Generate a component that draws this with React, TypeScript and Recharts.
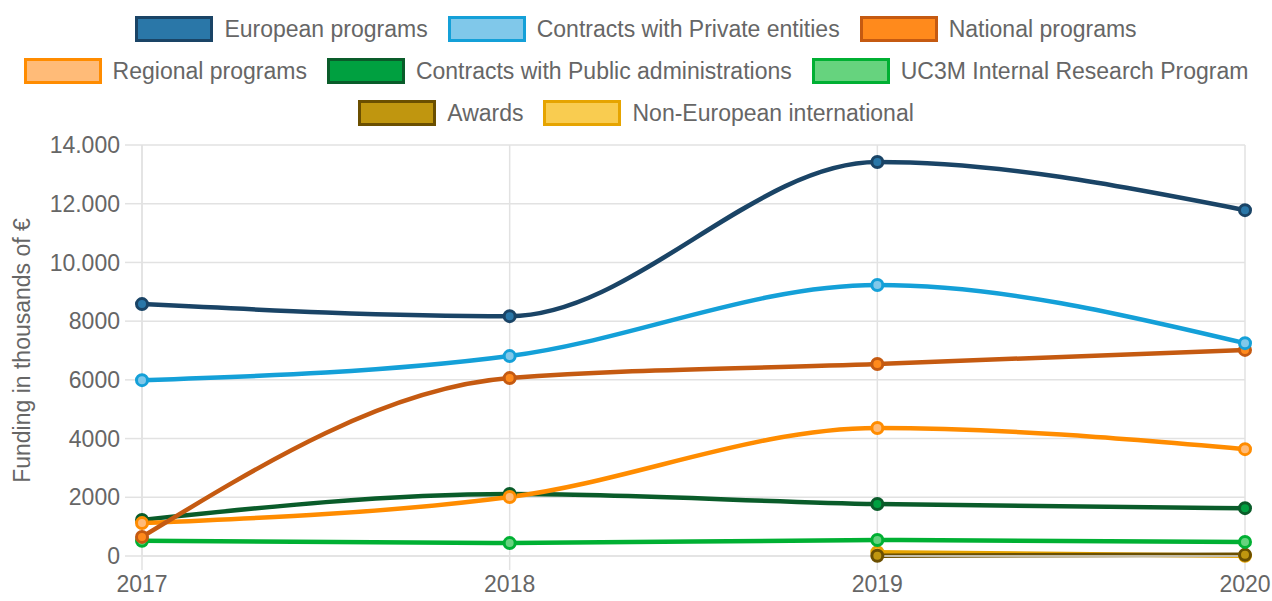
import React from 'react'
import { LineChart, Line, XAxis, YAxis, CartesianGrid } from 'recharts'

const years = ['2017', '2018', '2019', '2020']

const european = [8580, 8170, 13420, 11780]
const privateEntities = [5990, 6810, 9230, 7250]
const national = [650, 6060, 6540, 7020]
const regional = [1120, 2010, 4360, 3640]
const publicAdmin = [1230, 2110, 1770, 1630]
const internal = [520, 440, 545, 480]
const awards = [null, null, 10, 40]
const nonEuropean = [null, null, 130, 10]

const yTicks = [0, 2000, 4000, 6000, 8000, 10000, 12000, 14000]

const series = [
  { key: 'european', name: 'European programs', values: european, line: '#1a4466', fill: '#2a77a8' },
  { key: 'private', name: 'Contracts with Private entities', values: privateEntities, line: '#14a0d8', fill: '#80c8ea' },
  { key: 'national', name: 'National programs', values: national, line: '#c55a11', fill: '#ff8a1c' },
  { key: 'regional', name: 'Regional programs', values: regional, line: '#ff8c00', fill: '#ffbb78' },
  { key: 'public', name: 'Contracts with Public administrations', values: publicAdmin, line: '#0a5c2a', fill: '#00a040' },
  { key: 'internal', name: 'UC3M Internal Research Program', values: internal, line: '#00b033', fill: '#66d37e' },
  { key: 'awards', name: 'Awards', values: awards, line: '#6b4f00', fill: '#c0960f' },
  { key: 'nonEuropean', name: 'Non-European international', values: nonEuropean, line: '#e6a400', fill: '#f9cc50' },
]

const legendRows = [
  ['european', 'private', 'national'],
  ['regional', 'public', 'internal'],
  ['awards', 'nonEuropean'],
]

const data = years.map((year, i) => {
  const row: Record<string, any> = { year }
  series.forEach(s => {
    row[s.key] = s.values[i]
  })
  return row
})

const font = '"Liberation Sans", Arial, sans-serif'
const textColor = '#666'
const gridColor = '#e2e2e2'

function formatTick(v: number) {
  if (v >= 10000) {
    const s = String(v)
    return s.slice(0, s.length - 3) + '.' + s.slice(s.length - 3)
  }
  return String(v)
}

function ChartLegend() {
  return (
    <div style={{ position: 'absolute', left: 0, top: 15, width: 1272, fontFamily: font, fontSize: 23, color: textColor }}>
      {legendRows.map((row, ri) => (
        <div key={ri} style={{ display: 'flex', justifyContent: 'center', height: 42, alignItems: 'flex-start' }}>
          {row.map(k => {
            const s = series.find(x => x.key === k)!
            return (
              <div key={k} style={{ display: 'flex', alignItems: 'center', margin: '0 10px' }}>
                <div style={{ width: 72, height: 20, background: s.fill, border: `3px solid ${s.line}`, marginRight: 11 }} />
                <span style={{ lineHeight: '28px', whiteSpace: 'nowrap' }}>{s.name}</span>
              </div>
            )
          })}
        </div>
      ))}
    </div>
  )
}

export default function App() {
  return (
    <div style={{ position: 'absolute', left: 0, top: 0, width: 1272, height: 601, background: '#fff' }}>
      <ChartLegend />
      <LineChart width={1272} height={601} data={data} margin={{ top: 145, right: 27, bottom: 0, left: 0 }}>
        <CartesianGrid stroke={gridColor} strokeWidth={1.5} />
        <XAxis
          dataKey="year"
          height={45}
          stroke={gridColor}
          strokeWidth={1.5}
          tickSize={14}
          tickMargin={6}
          tick={{ fill: textColor, fontSize: 23, fontFamily: font }}
        />
        <YAxis
          width={142}
          domain={[0, 14000]}
          ticks={yTicks}
          interval={0}
          tickFormatter={formatTick}
          stroke={gridColor}
          strokeWidth={1.5}
          tickSize={17}
          tickMargin={5}
          tick={{ fill: textColor, fontSize: 23, fontFamily: font }}
          label={{
            value: 'Funding in thousands of €',
            angle: -90,
            position: 'insideLeft',
            offset: 22,
            style: { textAnchor: 'middle', fill: textColor, fontSize: 23, fontFamily: font },
          }}
        />
        {[...series].reverse().map(s => (
          <Line
            key={s.key}
            dataKey={s.key}
            name={s.name}
            type="monotone"
            stroke={s.line}
            strokeWidth={4.5}
            dot={{ r: 5.5, fill: s.fill, stroke: s.line, strokeWidth: 3 }}
            activeDot={false}
            connectNulls={false}
            isAnimationActive={false}
          />
        ))}
      </LineChart>
    </div>
  )
}
